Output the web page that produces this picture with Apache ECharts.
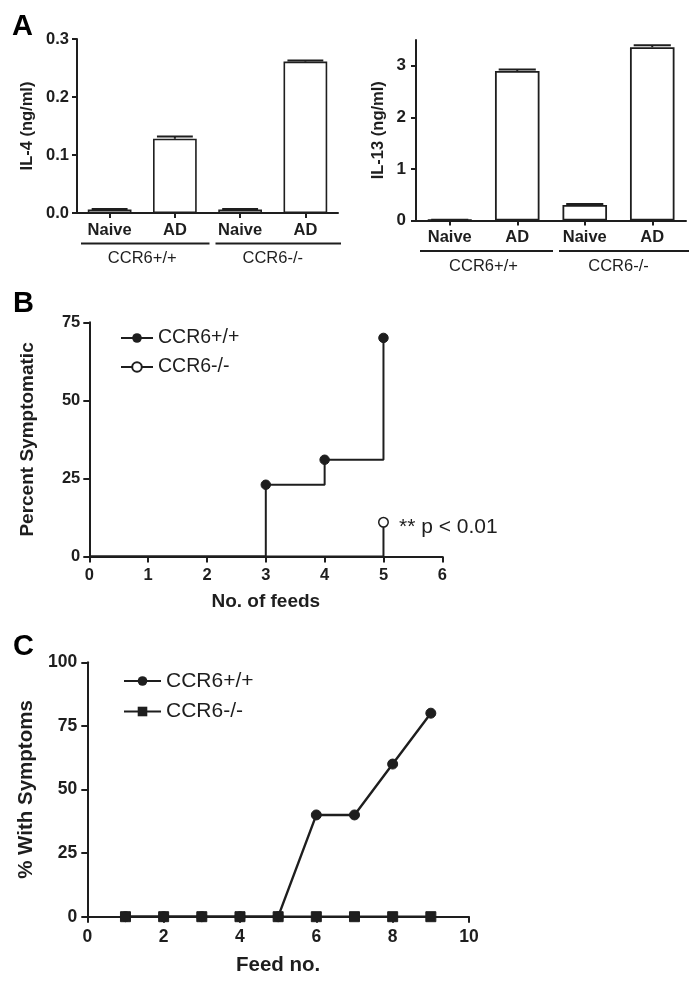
<!DOCTYPE html>
<html>
<head>
<meta charset="utf-8">
<script src="https://cdn.jsdelivr.net/npm/echarts/dist/echarts.min.js"></script>
<style>
html,body{margin:0;padding:0;background:#fff;}
#chart{width:698px;height:982px;}
</style>
</head>
<body>
<div id="chart"></div>
<script>
// ---- Data ----
const categoriesA = ['Naive', 'AD', 'Naive', 'AD'];
const groupsA = ['CCR6+/+', 'CCR6-/-'];
const il4 = [0.006, 0.128, 0.006, 0.261];
const il4Err = [0.001, 0.004, 0.001, 0.002];
const il13 = [0.01, 2.90, 0.30, 3.36];
const il13Err = [0.005, 0.03, 0.02, 0.04];
const il4Ticks = [0, 0.1, 0.2, 0.3];
const il13Ticks = [0, 1, 2, 3];

const feedsB = [0, 1, 2, 3, 4, 5];
const wtB = [0, 0, 0, 23, 31, 70];
const koB = [0, 0, 0, 0, 0, 11];
const pNoteB = '** p < 0.01';

const feedsC = [1, 2, 3, 4, 5, 6, 7, 8, 9];
const wtC = [0, 0, 0, 0, 0, 40, 40, 60, 80];
const koC = [0, 0, 0, 0, 0, 0, 0, 0, 0];

const seriesNames = ['CCR6+/+', 'CCR6-/-'];

// ---- Styles ----
const FONT = 'Liberation Sans, Arial, Helvetica, sans-serif';
const INK = '#1e1e1e';

const chart = echarts.init(document.getElementById('chart'), null, {renderer: 'canvas'});

function axisLineCfg() { return {show: true, lineStyle: {color: INK, width: 2}}; }
function tickCfg(len) { return {show: true, length: len, lineStyle: {color: INK, width: 2}}; }

function errorSeries(xi, yi, vals, errs) {
  return {
    type: 'custom', xAxisIndex: xi, yAxisIndex: yi, z: 6,
    data: vals.map((v, i) => [i, v, errs[i]]),
    encode: {x: 0, y: 1},
    renderItem: function (params, api) {
      const i = api.value(0);
      const v = api.value(1);
      const e = api.value(2);
      const top = api.coord([i, v]);
      const hi = api.coord([i, v + e]);
      const w = api.size([1, 0])[0] * 0.55;
      return {
        type: 'group',
        children: [
          {type: 'line', shape: {x1: top[0], y1: top[1], x2: hi[0], y2: hi[1]}, style: {stroke: INK, lineWidth: 2}},
          {type: 'line', shape: {x1: hi[0] - w / 2, y1: hi[1], x2: hi[0] + w / 2, y2: hi[1]}, style: {stroke: INK, lineWidth: 2}}
        ]
      };
    }
  };
}

function stepData(xs, ys) {
  return xs.map((x, i) => (ys[i] > 0 ? {value: [x, ys[i]]} : {value: [x, ys[i]], symbol: 'none'}));
}

const koBData = stepData(feedsB, koB);
koBData[koBData.length - 1].label = {
  show: true, position: 'right', distance: 10, offset: [0, 5],
  formatter: pNoteB, fontFamily: FONT, fontSize: 21, color: INK
};

const option = {
  animation: false,
  backgroundColor: '#fff',
  textStyle: {fontFamily: FONT, color: INK},
  title: [
    {text: 'A', left: 7, top: 7, textStyle: {fontFamily: FONT, fontSize: 29, fontWeight: 'bold', color: '#000'}},
    {text: 'B', left: 8, top: 284, textStyle: {fontFamily: FONT, fontSize: 29, fontWeight: 'bold', color: '#000'}},
    {text: 'C', left: 8, top: 627, textStyle: {fontFamily: FONT, fontSize: 29, fontWeight: 'bold', color: '#000'}}
  ],
  grid: [
    {left: 77, top: 39, width: 261, height: 174, containLabel: false},
    {left: 416, top: 40, width: 270, height: 180.5, containLabel: false},
    {left: 89.3, top: 322.3, width: 353, height: 234.3, containLabel: false},
    {left: 87.3, top: 662.3, width: 381.7, height: 254.4, containLabel: false}
  ],
  legend: [
    {
      orient: 'vertical', left: 115, top: 323, itemWidth: 32, itemHeight: 12, itemGap: 9,
      data: ['B ' + seriesNames[0], 'B ' + seriesNames[1]],
      formatter: n => n.slice(2),
      textStyle: {fontFamily: FONT, fontSize: 19.5, color: INK},
      selectedMode: false
    },
    {
      orient: 'vertical', left: 118, top: 665.5, itemWidth: 37, itemHeight: 12, itemGap: 9.5,
      data: ['C ' + seriesNames[0], 'C ' + seriesNames[1]],
      formatter: n => n.slice(2),
      textStyle: {fontFamily: FONT, fontSize: 21, color: INK},
      selectedMode: false
    }
  ],
  xAxis: [
    {
      gridIndex: 0, type: 'category', data: categoriesA, position: 'bottom',
      axisLine: axisLineCfg(), axisTick: Object.assign(tickCfg(5), {alignWithLabel: true}),
      axisLabel: {margin: 9, fontFamily: FONT, fontSize: 16.5, fontWeight: 'bold', color: INK}
    },
    {
      gridIndex: 0, type: 'category', data: groupsA, position: 'bottom',
      axisLine: {show: false}, axisTick: {show: false},
      axisLabel: {margin: 37, fontFamily: FONT, fontSize: 16.5, color: INK}
    },
    {
      gridIndex: 1, type: 'category', data: categoriesA, position: 'bottom',
      axisLine: axisLineCfg(), axisTick: Object.assign(tickCfg(5), {alignWithLabel: true}),
      axisLabel: {margin: 8, fontFamily: FONT, fontSize: 16.5, fontWeight: 'bold', color: INK}
    },
    {
      gridIndex: 1, type: 'category', data: groupsA, position: 'bottom',
      axisLine: {show: false}, axisTick: {show: false},
      axisLabel: {margin: 37, fontFamily: FONT, fontSize: 16.5, color: INK}
    },
    {
      gridIndex: 2, type: 'value', min: 0, max: 6, interval: 1,
      name: 'No. of feeds', nameLocation: 'middle', nameGap: 36,
      nameTextStyle: {fontFamily: FONT, fontSize: 19, fontWeight: 'bold', color: INK},
      axisLine: axisLineCfg(), axisTick: tickCfg(6), splitLine: {show: false},
      axisLabel: {margin: 10, fontFamily: FONT, fontSize: 16.5, fontWeight: 'bold', color: INK}
    },
    {
      gridIndex: 3, type: 'value', min: 0, max: 10, interval: 2,
      name: 'Feed no.', nameLocation: 'middle', nameGap: 38,
      nameTextStyle: {fontFamily: FONT, fontSize: 20.5, fontWeight: 'bold', color: INK},
      axisLine: axisLineCfg(), axisTick: tickCfg(6), splitLine: {show: false},
      axisLabel: {margin: 11, fontFamily: FONT, fontSize: 17.5, fontWeight: 'bold', color: INK}
    }
  ],
  yAxis: [
    {
      gridIndex: 0, type: 'value', min: 0, max: 0.3, interval: 0.1,
      name: 'IL-4 (ng/ml)', nameLocation: 'middle', nameGap: 41, nameRotate: 90,
      nameTextStyle: {fontFamily: FONT, fontSize: 16.5, fontWeight: 'bold', color: INK},
      axisLine: axisLineCfg(), axisTick: tickCfg(5), splitLine: {show: false},
      axisLabel: {margin: 8, fontFamily: FONT, fontSize: 16.5, fontWeight: 'bold', color: INK,
        formatter: v => Number(v).toFixed(1), customValues: il4Ticks}
    },
    {
      gridIndex: 1, type: 'value', min: 0, max: 3.5, interval: 1,
      name: 'IL-13 (ng/ml)', nameLocation: 'middle', nameGap: 29, nameRotate: 90,
      nameTextStyle: {fontFamily: FONT, fontSize: 16.5, fontWeight: 'bold', color: INK},
      axisLine: axisLineCfg(), axisTick: Object.assign(tickCfg(5), {customValues: il13Ticks}), splitLine: {show: false},
      axisLabel: {margin: 10, fontFamily: FONT, fontSize: 17, fontWeight: 'bold', color: INK, customValues: il13Ticks}
    },
    {
      gridIndex: 2, type: 'value', min: 0, max: 75, interval: 25,
      name: 'Percent Symptomatic', nameLocation: 'middle', nameGap: 52, nameRotate: 90,
      nameTextStyle: {fontFamily: FONT, fontSize: 19, fontWeight: 'bold', color: INK},
      axisLine: axisLineCfg(), axisTick: tickCfg(6), splitLine: {show: false},
      axisLabel: {margin: 9, fontFamily: FONT, fontSize: 16.5, fontWeight: 'bold', color: INK}
    },
    {
      gridIndex: 3, type: 'value', min: 0, max: 100, interval: 25,
      name: '% With Symptoms', nameLocation: 'middle', nameGap: 49, nameRotate: 90,
      nameTextStyle: {fontFamily: FONT, fontSize: 20.5, fontWeight: 'bold', color: INK},
      axisLine: axisLineCfg(), axisTick: tickCfg(6), splitLine: {show: false},
      axisLabel: {margin: 10, fontFamily: FONT, fontSize: 17.5, fontWeight: 'bold', color: INK}
    }
  ],
  series: [
    {
      type: 'bar', xAxisIndex: 0, yAxisIndex: 0, data: il4, barWidth: '67%', z: 3,
      itemStyle: {color: '#fff', borderColor: INK, borderWidth: 1.6}
    },
    errorSeries(0, 0, il4, il4Err),
    {
      type: 'bar', xAxisIndex: 2, yAxisIndex: 1, data: il13, barWidth: '66%', z: 3,
      itemStyle: {color: '#fff', borderColor: INK, borderWidth: 1.8}
    },
    errorSeries(2, 1, il13, il13Err),
    {
      name: 'B ' + seriesNames[0], type: 'line', xAxisIndex: 4, yAxisIndex: 2, step: 'end',
      data: stepData(feedsB, wtB), symbol: 'circle', symbolSize: 9.5, z: 4,
      lineStyle: {color: INK, width: 2}, itemStyle: {color: INK, borderColor: INK}
    },
    {
      name: 'B ' + seriesNames[1], type: 'line', xAxisIndex: 4, yAxisIndex: 2, step: 'end',
      data: koBData, symbol: 'circle', symbolSize: 9.5, z: 5,
      lineStyle: {color: INK, width: 2}, itemStyle: {color: '#fff', borderColor: INK, borderWidth: 1.5}
    },
    {
      name: 'C ' + seriesNames[0], type: 'line', xAxisIndex: 5, yAxisIndex: 3,
      data: feedsC.map((x, i) => [x, wtC[i]]), symbol: 'circle', symbolSize: 10, z: 4,
      lineStyle: {color: INK, width: 2.4}, itemStyle: {color: INK, borderColor: INK}
    },
    {
      name: 'C ' + seriesNames[1], type: 'line', xAxisIndex: 5, yAxisIndex: 3,
      data: feedsC.map((x, i) => [x, koC[i]]), symbol: 'rect', symbolSize: 10, z: 5,
      lineStyle: {color: INK, width: 2.4}, itemStyle: {color: INK, borderColor: INK}
    }
  ]
};

chart.setOption(option);

// Group underlines for panel A, placed via the category axes
function groupLines(xAxisIndex, yAxisIndex) {
  const out = [];
  const p0 = chart.convertToPixel({xAxisIndex: xAxisIndex}, 0);
  const p1 = chart.convertToPixel({xAxisIndex: xAxisIndex}, 1);
  const band = p1 - p0;
  const y = chart.convertToPixel({yAxisIndex: yAxisIndex}, 0) + 30.5;
  const insets = [[4, 2], [8, 3]];
  groupsA.forEach((g, gi) => {
    const a = chart.convertToPixel({xAxisIndex: xAxisIndex}, gi * 2) - band / 2 + insets[gi][0];
    const b = chart.convertToPixel({xAxisIndex: xAxisIndex}, gi * 2 + 1) + band / 2 + insets[gi][1];
    out.push({type: 'line', shape: {x1: a, y1: y, x2: b, y2: y}, style: {stroke: INK, lineWidth: 2.2}, silent: true});
  });
  return out;
}

chart.setOption({graphic: groupLines(0, 0).concat(groupLines(2, 1))});
</script>
</body>
</html>
